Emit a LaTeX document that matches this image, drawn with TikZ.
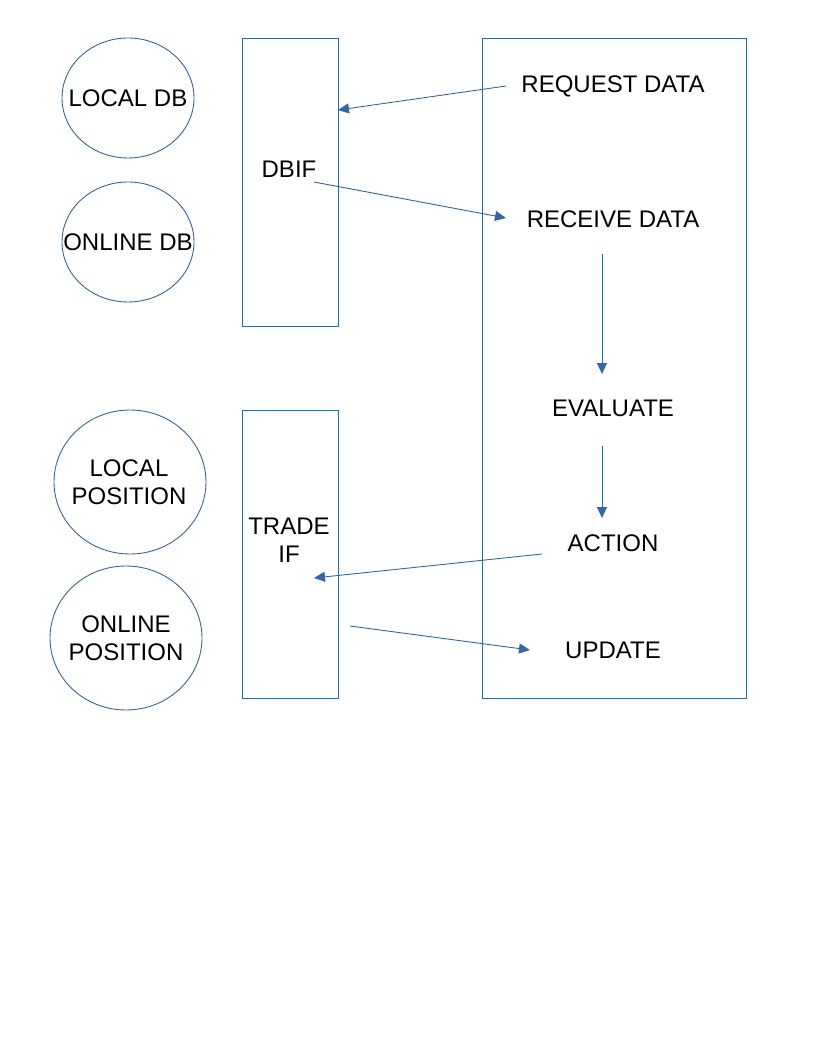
\documentclass[tikz,border=0pt]{standalone}
\usepackage{fontspec}
\setmainfont{Liberation Sans}
\usetikzlibrary{arrows.meta,shapes.geometric}
\definecolor{lo}{HTML}{3465A4}
\begin{document}
\begin{tikzpicture}[x=1pt,y=-1pt,
  shp/.style={draw=lo,line width=0.9pt},
  lbl/.style={font=\fontsize{24}{27.5}\selectfont,align=center,inner sep=0pt},
  arr/.style={draw=lo,line width=0.9pt,-{Triangle[length=11pt,width=10pt]}}]
\useasboundingbox (0,0) rectangle (816,1056);
% ellipses
\draw[shp] (128,98) ellipse [x radius=66, y radius=60];
\draw[shp] (128,242) ellipse [x radius=66, y radius=60];
\draw[shp] (130,482) ellipse [x radius=76, y radius=72];
\draw[shp] (126,638) ellipse [x radius=76, y radius=72];
\node[lbl] (ldb) at (128,98) {LOCAL DB};
\node[lbl] (odb) at (128,242) {ONLINE DB};
\node[lbl] (lpos) at (129,482) {LOCAL\\POSITION};
\node[lbl] (opos) at (126,638) {ONLINE\\POSITION};
% rectangles
\draw[shp] (242,38) rectangle (338,326);
\draw[shp] (242,410) rectangle (338,698);
\draw[shp] (482,38) rectangle (746,698);
% labels
\node[lbl] (dbif) at (289,169) {DBIF};
\node[lbl] (trade) at (289,540) {TRADE\\IF};
\node[lbl] (req) at (613,86) {REQUEST DATA};
\node[lbl] (rec) at (613,219) {RECEIVE DATA};
\node[lbl] (eval) at (613,408) {EVALUATE};
\node[lbl] (act) at (613,543) {ACTION};
\node[lbl] (upd) at (613,650) {UPDATE};
% connector endpoints
\coordinate (a1) at (506,86);  \coordinate (b1) at (338,110);
\coordinate (a2) at (314,182); \coordinate (b2) at (506,218);
\coordinate (a3) at (602,254); \coordinate (b3) at (602,374);
\coordinate (a4) at (602,446); \coordinate (b4) at (602,518);
\coordinate (a5) at (542,554); \coordinate (b5) at (314,578);
\coordinate (a6) at (350,626); \coordinate (b6) at (530,650);
\draw[arr] (a1) -- (b1);
\draw[arr] (a2) -- (b2);
\draw[arr] (a3) -- (b3);
\draw[arr] (a4) -- (b4);
\draw[arr] (a5) -- (b5);
\draw[arr] (a6) -- (b6);
\end{tikzpicture}
\end{document}
